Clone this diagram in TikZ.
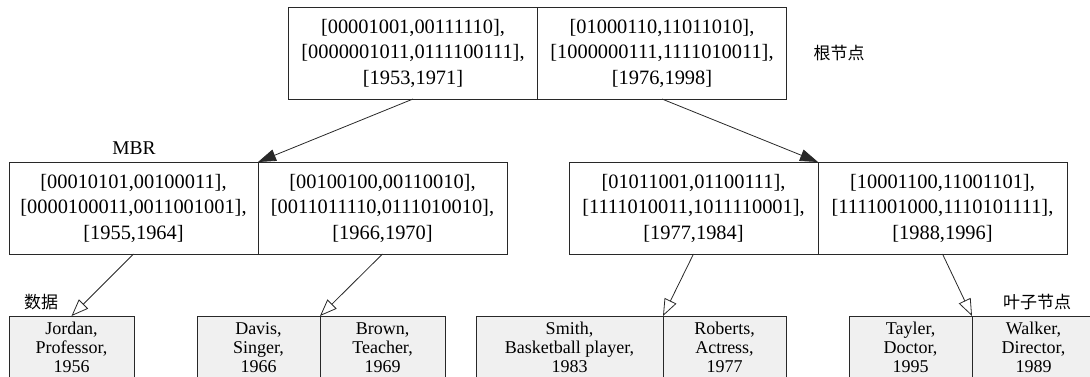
\documentclass[tikz,border=0pt]{standalone}
\usepackage{fontspec}
\setmainfont{Liberation Serif}
\newfontfamily\cjk{Noto Sans CJK SC}
\usetikzlibrary{positioning, arrows.meta}
\definecolor{leafgray}{RGB}{240,240,240}
\definecolor{edge}{RGB}{40,40,40}

\begin{document}
\begin{tikzpicture}[x=1pt, y=-1pt,
  mbr/.style={draw=edge, line width=0.9pt, outer sep=0pt, inner sep=0pt, minimum width=249pt, minimum height=92pt, align=center, font=\fontsize{20.4}{25.5}\selectfont},
  leaf/.style={draw=edge, fill=leafgray, line width=0.9pt, outer sep=0pt, inner sep=0pt, minimum width=123pt, minimum height=63pt, align=center, font=\fontsize{18}{19}\selectfont},
  lbl/.style={font=\cjk\fontsize{17}{17}\selectfont},
  hop/.style={-{Triangle[length=18pt, width=12pt]}, line width=0.8pt, draw=edge},
  down/.style={-{Triangle[open, length=17pt, width=13pt]}, line width=0.8pt, draw=edge}]
\useasboundingbox (0,0) rectangle (1090,376);
% root
\node[mbr] (rootL) at (413,53) {[00001001,00111110],\\\relax [0000001011,0111100111],\\\relax [1953,1971]};
\node[mbr, right=0pt of rootL] (rootR) {[01000110,11011010],\\\relax [1000000111,1111010011],\\\relax [1976,1998]};
% inner level
\node[mbr] (midLL) at (133.5,208) {[00010101,00100011],\\\relax [0000100011,0011001001],\\\relax [1955,1964]};
\node[mbr, right=0pt of midLL] (midLR) {[00100100,00110010],\\\relax [0011011110,0111010010],\\\relax [1966,1970]};
\node[mbr] (midRL) at (693.5,208) {[01011001,01100111],\\\relax [1111010011,1011110001],\\\relax [1977,1984]};
\node[mbr, right=0pt of midRL] (midRR) {[10001100,11001101],\\\relax [1111001000,1110101111],\\\relax [1988,1996]};
% leaves
\node[leaf, anchor=north, minimum width=125pt] (jordan) at (71.5,316) {Jordan,\\ Professor,\\ 1956};
\node[leaf, anchor=north] (davis) at (258.5,316) {Davis,\\ Singer,\\ 1966};
\node[leaf, right=0pt of davis, minimum width=125pt] (brown) {Brown,\\ Teacher,\\ 1969};
\node[leaf, anchor=north, minimum width=187pt] (smith) at (569.5,316) {Smith,\\ Basketball player,\\ 1983};
\node[leaf, right=0pt of smith] (roberts) {Roberts,\\ Actress,\\ 1977};
\node[leaf, anchor=north] (tayler) at (910.5,316) {Tayler,\\ Doctor,\\ 1995};
\node[leaf, right=0pt of tayler] (walker) {Walker,\\ Director,\\ 1989};
\draw[hop] (rootL.south) -- (midLL.north east);
\draw[hop] (rootR.south) -- (midRL.north east);
\draw[down] (midLL.south) -- (jordan.north);
\draw[down] (midLR.south) -- (davis.north east);
\draw[down] (midRL.south) -- (smith.north east);
\draw[down] (midRR.south) -- (tayler.north east);
\node[lbl] (rootlbl) at (839,53) {根节点};
\node[font=\fontsize{19.5}{19.5}\selectfont] (mbrlbl) at (134,148) {MBR};
\node[lbl] (datalbl) at (41,302) {数据};
\node[lbl] (leaflbl) at (1037,302) {叶子节点};
\end{tikzpicture}
\end{document}
